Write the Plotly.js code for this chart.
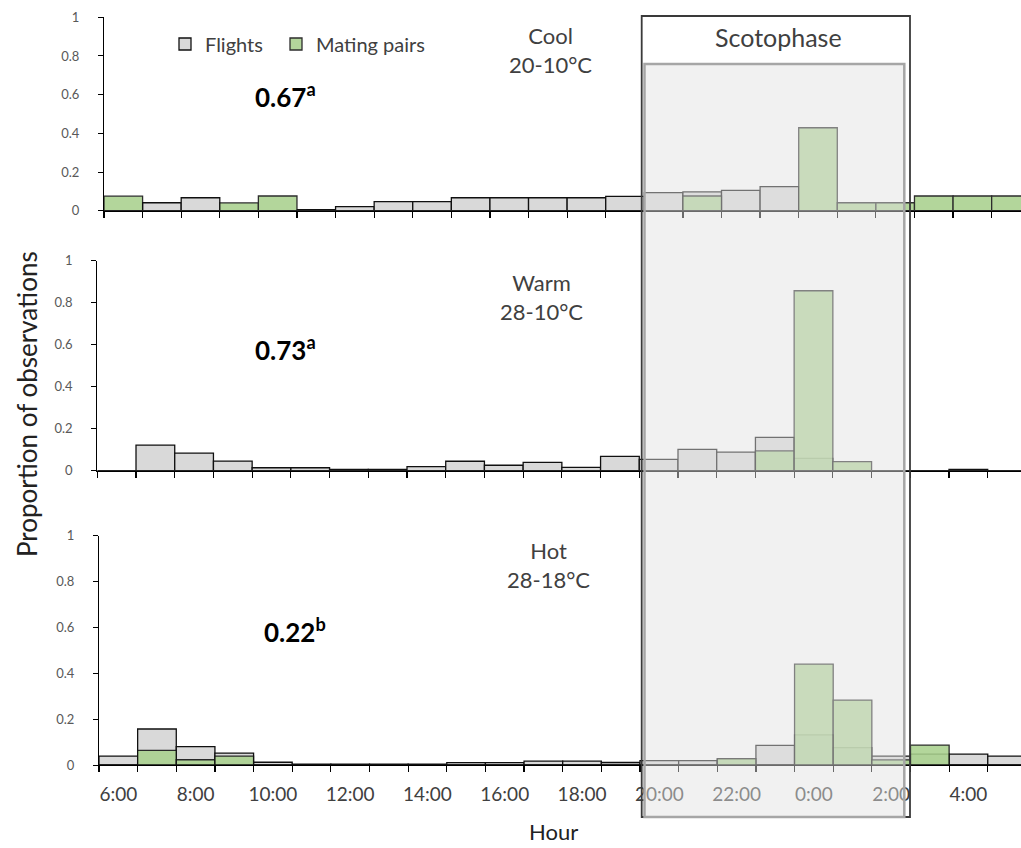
<!DOCTYPE html>
<html>
<head>
<meta charset="utf-8">
<script src="https://cdn.plot.ly/plotly-3.0.1.min.js"></script>
<style>html,body{margin:0;padding:0;background:#fff;}</style>
</head>
<body>
<div id="chart" style="width:1021px;height:848px;"></div>
<script>
// Hourly bins, starting at 6:00 and running through the night to 5:00
const hours = ['6:00','7:00','8:00','9:00','10:00','11:00','12:00','13:00','14:00','15:00','16:00','17:00',
               '18:00','19:00','20:00','21:00','22:00','23:00','0:00','1:00','2:00','3:00','4:00','5:00'];
const hourTickText = ['6:00','','8:00','','10:00','','12:00','','14:00','','16:00','',
                      '18:00','','20:00','','22:00','','0:00','','2:00','','4:00',''];

// Cool regime (20-10°C)
const coolFlights = [0, 0.041, 0.067, 0, 0, 0.006, 0.021, 0.047, 0.047, 0.067, 0.067, 0.067,
                     0.067, 0.074, 0.093, 0.097, 0.105, 0.124, 0, 0, 0, 0, 0, 0];
const coolMating  = [0.075, 0, 0, 0.040, 0.076, 0, 0, 0, 0, 0, 0, 0,
                     0, 0, 0, 0.076, 0, 0, 0.429, 0.041, 0.041, 0.076, 0.076, 0.076];

// Warm regime (28-10°C)
const warmFlights = [0, 0.122, 0.084, 0.046, 0.014, 0.014, 0.006, 0.006, 0.019, 0.045, 0.026, 0.040,
                     0.016, 0.068, 0.054, 0.102, 0.088, 0.159, 0.059, 0, 0, 0, 0.006, 0];
const warmMating  = [0, 0, 0, 0, 0, 0, 0, 0, 0, 0, 0, 0,
                     0, 0, 0, 0, 0, 0.094, 0.857, 0.043, 0, 0, 0, 0];

// Hot regime (28-18°C)
const hotFlights = [0.039, 0.157, 0.080, 0.052, 0.012, 0.004, 0.004, 0.004, 0.004, 0.010, 0.010, 0.017,
                    0.017, 0.011, 0.019, 0.019, 0.025, 0.086, 0.131, 0.076, 0.039, 0.047, 0.047, 0.039];
const hotMating  = [0, 0.064, 0.023, 0.039, 0, 0, 0, 0, 0, 0, 0, 0,
                    0, 0, 0, 0, 0.028, 0, 0.440, 0.283, 0.022, 0.087, 0, 0];

// Panel labels
const regimeNames = ['Cool<br>20-10°C', 'Warm<br>28-10°C', 'Hot<br>28-18°C'];
const proportions = ['0.67', '0.73', '0.22'];
const letters = ['a', 'a', 'b'];

const W = 1021, H = 848;
const FONT = 'Lato, "Open Sans", sans-serif';
const fx = p => p / W;          // pixel column -> paper x
const fy = p => 1 - p / H;      // pixel row -> paper y

const GRAY = '#d9d9d9';
const GREEN = '#a9d18e';
const EDGE = { color: '#111', width: 1.3 };

function pair(flights, mating, xa, ya, legend) {
  return [
    { type: 'bar', name: 'Flights', x: hours, y: flights, xaxis: xa, yaxis: ya,
      marker: { color: GRAY, line: EDGE }, showlegend: legend, legend: 'legend', hoverinfo: 'skip' },
    { type: 'bar', name: 'Mating pairs', x: hours, y: mating, xaxis: xa, yaxis: ya,
      marker: { color: GREEN, line: EDGE }, opacity: 0.88, showlegend: legend, legend: 'legend2',
      hoverinfo: 'skip' }
  ];
}

const data = [
  ...pair(coolFlights, coolMating, 'x', 'y', true),
  ...pair(warmFlights, warmMating, 'x2', 'y2', false),
  ...pair(hotFlights, hotMating, 'x3', 'y3', false)
];

function xAxis(left, rangeEnd, anchor, labels) {
  return {
    type: 'category', categoryorder: 'array', categoryarray: hours,
    domain: [fx(left), 1], range: [-0.5, rangeEnd], anchor: anchor,
    showline: true, linecolor: '#000', linewidth: 1.3,
    ticks: 'outside', tickson: 'boundaries', ticklen: 6, tickcolor: '#000', tickwidth: 1.2,
    tickmode: 'array', tickvals: hours, ticktext: hourTickText, tickangle: 0,
    showticklabels: labels, ticklabelstandoff: 12,
    tickfont: { family: FONT, size: 19, color: '#404040' },
    showgrid: false, zeroline: false, fixedrange: true
  };
}
function yAxis(bottom, top, anchor) {
  return {
    domain: [fy(bottom), fy(top)], range: [0, 1], anchor: anchor,
    tickmode: 'linear', tick0: 0, dtick: 0.2,
    showline: true, linecolor: '#000', linewidth: 1.1,
    ticks: 'outside', ticklen: 5, tickcolor: '#000', tickwidth: 1,
    ticklabelstandoff: 16,
    tickfont: { family: FONT, size: 13, color: '#595959' },
    showgrid: false, zeroline: false, fixedrange: true
  };
}

const annText = (text, x, y, size, opts) => Object.assign({
  text: text, xref: 'paper', yref: 'paper', x: fx(x), y: fy(y),
  xanchor: 'center', yanchor: 'middle',
  showarrow: false, font: { family: FONT, size: size, color: '#404040' }
}, opts || {});

const boldFont = { family: FONT, size: 26, color: '#000' };

const annotations = [
  annText(regimeNames[0], 550, 50, 22),
  annText(regimeNames[1], 541, 297, 22),
  annText(regimeNames[2], 548, 565, 22),
  annText('<b>' + proportions[0] + '<sup>' + letters[0] + '</sup></b>', 253, 96, 26,
          { xanchor: 'left', font: boldFont }),
  annText('<b>' + proportions[1] + '<sup>' + letters[1] + '</sup></b>', 253, 348, 26,
          { xanchor: 'left', font: boldFont }),
  annText('<b>' + proportions[2] + '<sup>' + letters[2] + '</sup></b>', 262, 630, 26,
          { xanchor: 'left', font: boldFont }),
  annText('Scotophase', 778, 37, 25),
  annText('Hour', 553, 831, 22, { font: { family: FONT, size: 22, color: '#222' } }),
  annText('Proportion of observations', 27, 404, 26,
          { textangle: -90, font: { family: FONT, size: 26, color: '#222' } })
];

const shapes = [
  // outer frame of the dark-phase block
  { type: 'rect', xref: 'paper', yref: 'paper', layer: 'above',
    x0: fx(641.7), x1: fx(910), y0: fy(817), y1: fy(16),
    line: { color: '#3a3a3a', width: 1.8 }, fillcolor: 'rgba(0,0,0,0)' },
  // shaded night period
  { type: 'rect', xref: 'paper', yref: 'paper', layer: 'above',
    x0: fx(644.5), x1: fx(904.3), y0: fy(817), y1: fy(64),
    line: { color: '#a6a6a6', width: 2.5 }, fillcolor: 'rgba(226,226,226,0.47)' }
];

const legendStyle = (x) => ({
  orientation: 'h', x: fx(x), y: fy(44), xanchor: 'left', yanchor: 'middle',
  font: { family: FONT, size: 20, color: '#404040' },
  bgcolor: 'rgba(0,0,0,0)', itemwidth: 30,
  itemclick: false, itemdoubleclick: false
});

const layout = {
  width: W, height: H,
  margin: { l: 0, r: 0, t: 0, b: 0 },
  paper_bgcolor: '#fff', plot_bgcolor: 'rgba(0,0,0,0)',
  barmode: 'overlay', bargap: 0,
  font: { family: FONT },
  showlegend: true,
  legend: legendStyle(165),
  legend2: legendStyle(276),
  xaxis: xAxis(104, 23.26, 'y', false),
  yaxis: yAxis(210.7, 17.3, 'x'),
  xaxis2: xAxis(97.3, 23.36, 'y2', false),
  yaxis2: yAxis(470.7, 260.7, 'x2'),
  xaxis3: xAxis(99, 23.36, 'y3', true),
  yaxis3: yAxis(765, 535.7, 'x3'),
  annotations: annotations,
  shapes: shapes
};

Plotly.newPlot('chart', data, layout, { displayModeBar: false, staticPlot: true });
</script>
</body>
</html>
